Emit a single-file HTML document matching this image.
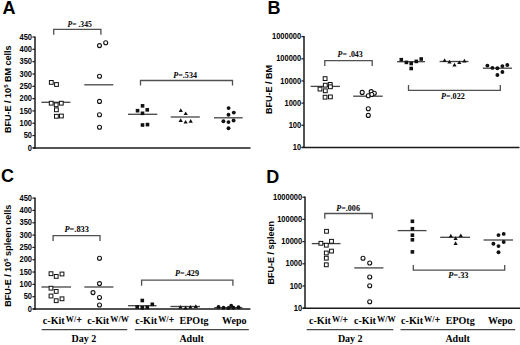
<!DOCTYPE html>
<html><head><meta charset="utf-8"><style>
html,body{margin:0;padding:0;background:#fff;}
body{width:520px;height:345px;overflow:hidden;}
svg{display:block;}
</style></head><body>
<svg width="520" height="345" viewBox="0 0 520 345">
<rect width="520" height="345" fill="#fff"/>
<line x1="41.4" y1="102.3" x2="70.4" y2="102.3" stroke="#444" stroke-width="1.3"/>
<line x1="84.3" y1="84.8" x2="113.3" y2="84.8" stroke="#444" stroke-width="1.3"/>
<line x1="128" y1="114.3" x2="157.3" y2="114.3" stroke="#444" stroke-width="1.3"/>
<line x1="170.7" y1="117.0" x2="199.8" y2="117.0" stroke="#444" stroke-width="1.3"/>
<line x1="214" y1="117.8" x2="242.7" y2="117.8" stroke="#444" stroke-width="1.3"/>
<line x1="310.6" y1="86.4" x2="340" y2="86.4" stroke="#444" stroke-width="1.3"/>
<line x1="353.2" y1="96.2" x2="382.7" y2="96.2" stroke="#444" stroke-width="1.3"/>
<line x1="397" y1="61.7" x2="425" y2="61.7" stroke="#444" stroke-width="1.3"/>
<line x1="439.6" y1="61.5" x2="468.5" y2="61.5" stroke="#444" stroke-width="1.3"/>
<line x1="482.8" y1="68.2" x2="512" y2="68.2" stroke="#444" stroke-width="1.3"/>
<line x1="41.4" y1="287" x2="71" y2="287" stroke="#444" stroke-width="1.3"/>
<line x1="84.3" y1="287" x2="113.4" y2="287" stroke="#444" stroke-width="1.3"/>
<line x1="128" y1="305.7" x2="156.5" y2="305.7" stroke="#444" stroke-width="1.3"/>
<line x1="170.4" y1="306.5" x2="200" y2="306.5" stroke="#444" stroke-width="1.3"/>
<line x1="214.2" y1="307.7" x2="242.3" y2="307.7" stroke="#444" stroke-width="1.3"/>
<line x1="311.8" y1="243.6" x2="340.5" y2="243.6" stroke="#444" stroke-width="1.3"/>
<line x1="354.3" y1="267.9" x2="383.4" y2="267.9" stroke="#444" stroke-width="1.3"/>
<line x1="397.6" y1="230.6" x2="426.5" y2="230.6" stroke="#444" stroke-width="1.3"/>
<line x1="440.2" y1="237.3" x2="470" y2="237.3" stroke="#444" stroke-width="1.3"/>
<line x1="483.6" y1="240" x2="513" y2="240" stroke="#444" stroke-width="1.3"/>
<text x="2.4" y="13.9" font-family='"Liberation Sans", sans-serif' font-size="18" font-weight="bold" text-anchor="start" >A</text>
<line x1="35.0" y1="36.42000000000001" x2="35.0" y2="148.6" stroke="#1a1a1a" stroke-width="1.5"/>
<line x1="32.8" y1="147.9" x2="250.5" y2="147.9" stroke="#1a1a1a" stroke-width="1.5"/>
<line x1="32.4" y1="147.9" x2="35.0" y2="147.9" stroke="#1a1a1a" stroke-width="1.2"/>
<text x="32.0" y="150.5" font-family='"Liberation Sans", sans-serif' font-size="8.4" font-weight="bold" text-anchor="end" textLength="4.17" lengthAdjust="spacingAndGlyphs" >0</text>
<line x1="32.4" y1="135.58" x2="35.0" y2="135.58" stroke="#1a1a1a" stroke-width="1.2"/>
<text x="32.0" y="138.18" font-family='"Liberation Sans", sans-serif' font-size="8.4" font-weight="bold" text-anchor="end" textLength="8.34" lengthAdjust="spacingAndGlyphs" >50</text>
<line x1="32.4" y1="123.26" x2="35.0" y2="123.26" stroke="#1a1a1a" stroke-width="1.2"/>
<text x="32.0" y="125.86" font-family='"Liberation Sans", sans-serif' font-size="8.4" font-weight="bold" text-anchor="end" textLength="12.51" lengthAdjust="spacingAndGlyphs" >100</text>
<line x1="32.4" y1="110.94" x2="35.0" y2="110.94" stroke="#1a1a1a" stroke-width="1.2"/>
<text x="32.0" y="113.53999999999999" font-family='"Liberation Sans", sans-serif' font-size="8.4" font-weight="bold" text-anchor="end" textLength="12.51" lengthAdjust="spacingAndGlyphs" >150</text>
<line x1="32.4" y1="98.62" x2="35.0" y2="98.62" stroke="#1a1a1a" stroke-width="1.2"/>
<text x="32.0" y="101.22" font-family='"Liberation Sans", sans-serif' font-size="8.4" font-weight="bold" text-anchor="end" textLength="12.51" lengthAdjust="spacingAndGlyphs" >200</text>
<line x1="32.4" y1="86.30000000000001" x2="35.0" y2="86.30000000000001" stroke="#1a1a1a" stroke-width="1.2"/>
<text x="32.0" y="88.9" font-family='"Liberation Sans", sans-serif' font-size="8.4" font-weight="bold" text-anchor="end" textLength="12.51" lengthAdjust="spacingAndGlyphs" >250</text>
<line x1="32.4" y1="73.98" x2="35.0" y2="73.98" stroke="#1a1a1a" stroke-width="1.2"/>
<text x="32.0" y="76.58" font-family='"Liberation Sans", sans-serif' font-size="8.4" font-weight="bold" text-anchor="end" textLength="12.51" lengthAdjust="spacingAndGlyphs" >300</text>
<line x1="32.4" y1="61.66000000000001" x2="35.0" y2="61.66000000000001" stroke="#1a1a1a" stroke-width="1.2"/>
<text x="32.0" y="64.26" font-family='"Liberation Sans", sans-serif' font-size="8.4" font-weight="bold" text-anchor="end" textLength="12.51" lengthAdjust="spacingAndGlyphs" >350</text>
<line x1="32.4" y1="49.34" x2="35.0" y2="49.34" stroke="#1a1a1a" stroke-width="1.2"/>
<text x="32.0" y="51.940000000000005" font-family='"Liberation Sans", sans-serif' font-size="8.4" font-weight="bold" text-anchor="end" textLength="12.51" lengthAdjust="spacingAndGlyphs" >400</text>
<line x1="32.4" y1="37.02000000000001" x2="35.0" y2="37.02000000000001" stroke="#1a1a1a" stroke-width="1.2"/>
<text x="32.0" y="39.62000000000001" font-family='"Liberation Sans", sans-serif' font-size="8.4" font-weight="bold" text-anchor="end" textLength="12.51" lengthAdjust="spacingAndGlyphs" >450</text>
<text transform="translate(10.6,89.2) rotate(-90)" font-family='"Liberation Sans", sans-serif' font-size="9" font-weight="bold" text-anchor="middle">BFU-E / 10<tspan font-size="6" dy="-3">5</tspan><tspan dy="3"> BM cells</tspan></text>
<rect x="49.40" y="80.50" width="3.8" height="3.8" fill="#fff" stroke="#111" stroke-width="1"/>
<rect x="54.60" y="82.60" width="3.8" height="3.8" fill="#fff" stroke="#111" stroke-width="1"/>
<rect x="49.30" y="101.30" width="3.8" height="3.8" fill="#fff" stroke="#111" stroke-width="1"/>
<rect x="54.30" y="102.90" width="3.8" height="3.8" fill="#fff" stroke="#111" stroke-width="1"/>
<rect x="59.40" y="101.30" width="3.8" height="3.8" fill="#fff" stroke="#111" stroke-width="1"/>
<rect x="54.50" y="107.90" width="3.8" height="3.8" fill="#fff" stroke="#111" stroke-width="1"/>
<rect x="54.50" y="114.40" width="3.8" height="3.8" fill="#fff" stroke="#111" stroke-width="1"/>
<rect x="59.50" y="114.10" width="3.8" height="3.8" fill="#fff" stroke="#111" stroke-width="1"/>
<circle cx="99.50" cy="45.60" r="2" fill="#fff" stroke="#111" stroke-width="1.1"/>
<circle cx="105.70" cy="42.70" r="2" fill="#fff" stroke="#111" stroke-width="1.1"/>
<circle cx="99.50" cy="76.20" r="2" fill="#fff" stroke="#111" stroke-width="1.1"/>
<circle cx="99.50" cy="101.40" r="2" fill="#fff" stroke="#111" stroke-width="1.1"/>
<circle cx="99.50" cy="114.70" r="2" fill="#fff" stroke="#111" stroke-width="1.1"/>
<circle cx="99.50" cy="127.20" r="2" fill="#fff" stroke="#111" stroke-width="1.1"/>
<rect x="140.75" y="104.05" width="3.6" height="3.6" fill="#111"/>
<rect x="135.75" y="108.90" width="3.6" height="3.6" fill="#111"/>
<rect x="145.45" y="108.05" width="3.6" height="3.6" fill="#111"/>
<rect x="140.70" y="111.50" width="3.6" height="3.6" fill="#111"/>
<rect x="140.70" y="123.20" width="3.6" height="3.6" fill="#111"/>
<rect x="145.70" y="122.80" width="3.6" height="3.6" fill="#111"/>
<path d="M180.80 108.30L182.90 112.00L178.70 112.00Z" fill="#111"/>
<path d="M185.70 111.40L187.80 115.10L183.60 115.10Z" fill="#111"/>
<path d="M180.70 118.20L182.80 121.90L178.60 121.90Z" fill="#111"/>
<path d="M185.60 119.90L187.70 123.60L183.50 123.60Z" fill="#111"/>
<path d="M190.70 119.00L192.80 122.70L188.60 122.70Z" fill="#111"/>
<circle cx="228.60" cy="108.10" r="1.95" fill="#111"/>
<circle cx="233.80" cy="112.60" r="1.95" fill="#111"/>
<circle cx="228.50" cy="114.70" r="1.95" fill="#111"/>
<circle cx="223.40" cy="121.30" r="1.95" fill="#111"/>
<circle cx="228.50" cy="122.10" r="1.95" fill="#111"/>
<circle cx="233.60" cy="120.50" r="1.95" fill="#111"/>
<circle cx="228.50" cy="128.20" r="1.95" fill="#111"/>
<path d="M53.7 34.80V29.3H100.9V34.80" fill="none" stroke="#505050" stroke-width="1.3"/>
<text x="67.5" y="26.5" font-family='"Liberation Serif", serif' font-size="7.2" font-weight="bold" textLength="24.3" lengthAdjust="spacingAndGlyphs"><tspan font-style="italic">P</tspan>= .345</text>
<path d="M140.5 85.60V80.5H232.5V85.60" fill="none" stroke="#505050" stroke-width="1.3"/>
<text x="173.3" y="77.5" font-family='"Liberation Serif", serif' font-size="7.2" font-weight="bold" textLength="23.7" lengthAdjust="spacingAndGlyphs"><tspan font-style="italic">P</tspan>=.534</text>
<text x="267.6" y="13.7" font-family='"Liberation Sans", sans-serif' font-size="18" font-weight="bold" text-anchor="start" >B</text>
<line x1="304.0" y1="36.050000000000004" x2="304.0" y2="148.1" stroke="#1a1a1a" stroke-width="1.5"/>
<line x1="301.8" y1="147.4" x2="519.5" y2="147.4" stroke="#1a1a1a" stroke-width="1.5"/>
<line x1="301.4" y1="147.4" x2="304.0" y2="147.4" stroke="#1a1a1a" stroke-width="1.2"/>
<text x="301.2" y="150.0" font-family='"Liberation Sans", sans-serif' font-size="8.4" font-weight="bold" text-anchor="end" textLength="8.34" lengthAdjust="spacingAndGlyphs" >10</text>
<line x1="301.4" y1="125.25" x2="304.0" y2="125.25" stroke="#1a1a1a" stroke-width="1.2"/>
<text x="301.2" y="127.85" font-family='"Liberation Sans", sans-serif' font-size="8.4" font-weight="bold" text-anchor="end" textLength="12.51" lengthAdjust="spacingAndGlyphs" >100</text>
<line x1="301.4" y1="103.10000000000001" x2="304.0" y2="103.10000000000001" stroke="#1a1a1a" stroke-width="1.2"/>
<text x="301.2" y="105.7" font-family='"Liberation Sans", sans-serif' font-size="8.4" font-weight="bold" text-anchor="end" textLength="16.68" lengthAdjust="spacingAndGlyphs" >1000</text>
<line x1="301.4" y1="80.95000000000002" x2="304.0" y2="80.95000000000002" stroke="#1a1a1a" stroke-width="1.2"/>
<text x="301.2" y="83.55000000000001" font-family='"Liberation Sans", sans-serif' font-size="8.4" font-weight="bold" text-anchor="end" textLength="20.85" lengthAdjust="spacingAndGlyphs" >10000</text>
<line x1="301.4" y1="58.80000000000001" x2="304.0" y2="58.80000000000001" stroke="#1a1a1a" stroke-width="1.2"/>
<text x="301.2" y="61.40000000000001" font-family='"Liberation Sans", sans-serif' font-size="8.4" font-weight="bold" text-anchor="end" textLength="25.02" lengthAdjust="spacingAndGlyphs" >100000</text>
<line x1="301.4" y1="36.650000000000006" x2="304.0" y2="36.650000000000006" stroke="#1a1a1a" stroke-width="1.2"/>
<text x="301.2" y="39.25000000000001" font-family='"Liberation Sans", sans-serif' font-size="8.4" font-weight="bold" text-anchor="end" textLength="29.19" lengthAdjust="spacingAndGlyphs" >1000000</text>
<text transform="translate(272.4,89.5) rotate(-90)" font-family='"Liberation Sans", sans-serif' font-size="9" font-weight="bold" text-anchor="middle">BFU-E / BM</text>
<rect x="323.20" y="76.70" width="3.8" height="3.8" fill="#fff" stroke="#111" stroke-width="1"/>
<rect x="323.40" y="83.30" width="3.8" height="3.8" fill="#fff" stroke="#111" stroke-width="1"/>
<rect x="328.30" y="82.50" width="3.8" height="3.8" fill="#fff" stroke="#111" stroke-width="1"/>
<rect x="328.50" y="84.90" width="3.8" height="3.8" fill="#fff" stroke="#111" stroke-width="1"/>
<rect x="318.10" y="87.20" width="3.8" height="3.8" fill="#fff" stroke="#111" stroke-width="1"/>
<rect x="323.40" y="88.90" width="3.8" height="3.8" fill="#fff" stroke="#111" stroke-width="1"/>
<rect x="323.20" y="95.30" width="3.8" height="3.8" fill="#fff" stroke="#111" stroke-width="1"/>
<rect x="328.50" y="95.00" width="3.8" height="3.8" fill="#fff" stroke="#111" stroke-width="1"/>
<circle cx="362.20" cy="92.40" r="2" fill="#fff" stroke="#111" stroke-width="1.1"/>
<circle cx="371.20" cy="91.60" r="2" fill="#fff" stroke="#111" stroke-width="1.1"/>
<circle cx="374.30" cy="93.30" r="2" fill="#fff" stroke="#111" stroke-width="1.1"/>
<circle cx="368.30" cy="95.70" r="2" fill="#fff" stroke="#111" stroke-width="1.1"/>
<circle cx="371.80" cy="94.50" r="2" fill="#fff" stroke="#111" stroke-width="1.1"/>
<circle cx="368.30" cy="108.80" r="2" fill="#fff" stroke="#111" stroke-width="1.1"/>
<circle cx="368.30" cy="115.40" r="2" fill="#fff" stroke="#111" stroke-width="1.1"/>
<rect x="399.50" y="57.90" width="3.6" height="3.6" fill="#111"/>
<rect x="404.60" y="60.60" width="3.6" height="3.6" fill="#111"/>
<rect x="409.40" y="61.70" width="3.6" height="3.6" fill="#111"/>
<rect x="414.50" y="59.60" width="3.6" height="3.6" fill="#111"/>
<rect x="419.40" y="57.20" width="3.6" height="3.6" fill="#111"/>
<rect x="409.40" y="66.70" width="3.6" height="3.6" fill="#111"/>
<path d="M444.60 58.20L446.70 61.90L442.50 61.90Z" fill="#111"/>
<path d="M449.50 59.70L451.60 63.40L447.40 63.40Z" fill="#111"/>
<path d="M454.50 62.80L456.60 66.50L452.40 66.50Z" fill="#111"/>
<path d="M459.30 60.40L461.40 64.10L457.20 64.10Z" fill="#111"/>
<path d="M464.40 58.70L466.50 62.40L462.30 62.40Z" fill="#111"/>
<circle cx="487.40" cy="65.60" r="1.95" fill="#111"/>
<circle cx="492.40" cy="67.90" r="1.95" fill="#111"/>
<circle cx="497.40" cy="68.20" r="1.95" fill="#111"/>
<circle cx="502.40" cy="66.10" r="1.95" fill="#111"/>
<circle cx="507.30" cy="65.00" r="1.95" fill="#111"/>
<circle cx="502.40" cy="72.00" r="1.95" fill="#111"/>
<circle cx="497.40" cy="75.00" r="1.95" fill="#111"/>
<path d="M324.8 65.90V60.6H372.2V65.90" fill="none" stroke="#505050" stroke-width="1.3"/>
<text x="337.6" y="56.8" font-family='"Liberation Serif", serif' font-size="7.2" font-weight="bold" textLength="25.2" lengthAdjust="spacingAndGlyphs"><tspan font-style="italic">P</tspan>= .043</text>
<path d="M408.5 85.10V90.3H500.3V85.10" fill="none" stroke="#505050" stroke-width="1.3"/>
<text x="441" y="98.6" font-family='"Liberation Serif", serif' font-size="7.2" font-weight="bold" textLength="23.8" lengthAdjust="spacingAndGlyphs"><tspan font-style="italic">P</tspan>=.022</text>
<text x="1.0" y="181.5" font-family='"Liberation Sans", sans-serif' font-size="18" font-weight="bold" text-anchor="start" >C</text>
<line x1="35.0" y1="197.52" x2="35.0" y2="309.7" stroke="#1a1a1a" stroke-width="1.5"/>
<line x1="32.8" y1="309.0" x2="250.4" y2="309.0" stroke="#1a1a1a" stroke-width="1.5"/>
<line x1="32.4" y1="309.0" x2="35.0" y2="309.0" stroke="#1a1a1a" stroke-width="1.2"/>
<text x="32.0" y="311.6" font-family='"Liberation Sans", sans-serif' font-size="8.4" font-weight="bold" text-anchor="end" textLength="4.17" lengthAdjust="spacingAndGlyphs" >0</text>
<line x1="32.4" y1="296.68" x2="35.0" y2="296.68" stroke="#1a1a1a" stroke-width="1.2"/>
<text x="32.0" y="299.28000000000003" font-family='"Liberation Sans", sans-serif' font-size="8.4" font-weight="bold" text-anchor="end" textLength="8.34" lengthAdjust="spacingAndGlyphs" >50</text>
<line x1="32.4" y1="284.36" x2="35.0" y2="284.36" stroke="#1a1a1a" stroke-width="1.2"/>
<text x="32.0" y="286.96000000000004" font-family='"Liberation Sans", sans-serif' font-size="8.4" font-weight="bold" text-anchor="end" textLength="12.51" lengthAdjust="spacingAndGlyphs" >100</text>
<line x1="32.4" y1="272.04" x2="35.0" y2="272.04" stroke="#1a1a1a" stroke-width="1.2"/>
<text x="32.0" y="274.64000000000004" font-family='"Liberation Sans", sans-serif' font-size="8.4" font-weight="bold" text-anchor="end" textLength="12.51" lengthAdjust="spacingAndGlyphs" >150</text>
<line x1="32.4" y1="259.72" x2="35.0" y2="259.72" stroke="#1a1a1a" stroke-width="1.2"/>
<text x="32.0" y="262.32000000000005" font-family='"Liberation Sans", sans-serif' font-size="8.4" font-weight="bold" text-anchor="end" textLength="12.51" lengthAdjust="spacingAndGlyphs" >200</text>
<line x1="32.4" y1="247.4" x2="35.0" y2="247.4" stroke="#1a1a1a" stroke-width="1.2"/>
<text x="32.0" y="250.0" font-family='"Liberation Sans", sans-serif' font-size="8.4" font-weight="bold" text-anchor="end" textLength="12.51" lengthAdjust="spacingAndGlyphs" >250</text>
<line x1="32.4" y1="235.07999999999998" x2="35.0" y2="235.07999999999998" stroke="#1a1a1a" stroke-width="1.2"/>
<text x="32.0" y="237.67999999999998" font-family='"Liberation Sans", sans-serif' font-size="8.4" font-weight="bold" text-anchor="end" textLength="12.51" lengthAdjust="spacingAndGlyphs" >300</text>
<line x1="32.4" y1="222.76" x2="35.0" y2="222.76" stroke="#1a1a1a" stroke-width="1.2"/>
<text x="32.0" y="225.35999999999999" font-family='"Liberation Sans", sans-serif' font-size="8.4" font-weight="bold" text-anchor="end" textLength="12.51" lengthAdjust="spacingAndGlyphs" >350</text>
<line x1="32.4" y1="210.44" x2="35.0" y2="210.44" stroke="#1a1a1a" stroke-width="1.2"/>
<text x="32.0" y="213.04" font-family='"Liberation Sans", sans-serif' font-size="8.4" font-weight="bold" text-anchor="end" textLength="12.51" lengthAdjust="spacingAndGlyphs" >400</text>
<line x1="32.4" y1="198.12" x2="35.0" y2="198.12" stroke="#1a1a1a" stroke-width="1.2"/>
<text x="32.0" y="200.72" font-family='"Liberation Sans", sans-serif' font-size="8.4" font-weight="bold" text-anchor="end" textLength="12.51" lengthAdjust="spacingAndGlyphs" >450</text>
<text transform="translate(10.6,255.8) rotate(-90)" font-family='"Liberation Sans", sans-serif' font-size="9" font-weight="bold" text-anchor="middle">BFU-E / 10<tspan font-size="6" dy="-3">5</tspan><tspan dy="3"> spleen cells</tspan></text>
<rect x="49.10" y="271.80" width="3.8" height="3.8" fill="#fff" stroke="#111" stroke-width="1"/>
<rect x="54.30" y="274.50" width="3.8" height="3.8" fill="#fff" stroke="#111" stroke-width="1"/>
<rect x="60.10" y="272.10" width="3.8" height="3.8" fill="#fff" stroke="#111" stroke-width="1"/>
<rect x="49.10" y="286.30" width="3.8" height="3.8" fill="#fff" stroke="#111" stroke-width="1"/>
<rect x="54.30" y="289.50" width="3.8" height="3.8" fill="#fff" stroke="#111" stroke-width="1"/>
<rect x="49.10" y="294.10" width="3.8" height="3.8" fill="#fff" stroke="#111" stroke-width="1"/>
<rect x="54.30" y="298.80" width="3.8" height="3.8" fill="#fff" stroke="#111" stroke-width="1"/>
<rect x="60.10" y="296.90" width="3.8" height="3.8" fill="#fff" stroke="#111" stroke-width="1"/>
<circle cx="99.50" cy="258.20" r="2" fill="#fff" stroke="#111" stroke-width="1.1"/>
<circle cx="99.50" cy="283.60" r="2" fill="#fff" stroke="#111" stroke-width="1.1"/>
<circle cx="93.00" cy="292.60" r="2" fill="#fff" stroke="#111" stroke-width="1.1"/>
<circle cx="99.50" cy="297.50" r="2" fill="#fff" stroke="#111" stroke-width="1.1"/>
<circle cx="99.50" cy="305.00" r="2" fill="#fff" stroke="#111" stroke-width="1.1"/>
<rect x="140.50" y="298.70" width="3.6" height="3.6" fill="#111"/>
<rect x="150.50" y="302.50" width="3.6" height="3.6" fill="#111"/>
<rect x="135.40" y="305.20" width="3.6" height="3.6" fill="#111"/>
<rect x="140.50" y="306.00" width="3.6" height="3.6" fill="#111"/>
<rect x="145.50" y="305.60" width="3.6" height="3.6" fill="#111"/>
<path d="M180.40 304.90L182.50 308.60L178.30 308.60Z" fill="#111"/>
<path d="M185.60 305.70L187.70 309.40L183.50 309.40Z" fill="#111"/>
<path d="M190.40 304.90L192.50 308.60L188.30 308.60Z" fill="#111"/>
<path d="M195.80 304.20L197.90 307.90L193.70 307.90Z" fill="#111"/>
<circle cx="218.50" cy="306.90" r="1.95" fill="#111"/>
<circle cx="223.50" cy="307.70" r="1.95" fill="#111"/>
<circle cx="228.50" cy="308.00" r="1.95" fill="#111"/>
<circle cx="231.20" cy="305.80" r="1.95" fill="#111"/>
<circle cx="233.50" cy="307.70" r="1.95" fill="#111"/>
<circle cx="238.50" cy="307.30" r="1.95" fill="#111"/>
<path d="M53.1 240.90V235.6H100V240.90" fill="none" stroke="#505050" stroke-width="1.3"/>
<text x="64.4" y="231.6" font-family='"Liberation Serif", serif' font-size="7.2" font-weight="bold" textLength="24.6" lengthAdjust="spacingAndGlyphs"><tspan font-style="italic">P</tspan>=.833</text>
<path d="M141.6 285.80V280.2H232.9V285.80" fill="none" stroke="#505050" stroke-width="1.3"/>
<text x="175.1" y="276" font-family='"Liberation Serif", serif' font-size="7.2" font-weight="bold" textLength="23.9" lengthAdjust="spacingAndGlyphs"><tspan font-style="italic">P</tspan>=.429</text>
<text x="266.3" y="182.8" font-family='"Liberation Sans", sans-serif' font-size="18" font-weight="bold" text-anchor="start" >D</text>
<line x1="305.0" y1="196.6" x2="305.0" y2="308.9" stroke="#1a1a1a" stroke-width="1.5"/>
<line x1="302.8" y1="308.2" x2="520" y2="308.2" stroke="#1a1a1a" stroke-width="1.5"/>
<line x1="302.4" y1="308.2" x2="305.0" y2="308.2" stroke="#1a1a1a" stroke-width="1.2"/>
<text x="302.2" y="310.8" font-family='"Liberation Sans", sans-serif' font-size="8.4" font-weight="bold" text-anchor="end" textLength="8.34" lengthAdjust="spacingAndGlyphs" >10</text>
<line x1="302.4" y1="286.0" x2="305.0" y2="286.0" stroke="#1a1a1a" stroke-width="1.2"/>
<text x="302.2" y="288.6" font-family='"Liberation Sans", sans-serif' font-size="8.4" font-weight="bold" text-anchor="end" textLength="12.51" lengthAdjust="spacingAndGlyphs" >100</text>
<line x1="302.4" y1="263.8" x2="305.0" y2="263.8" stroke="#1a1a1a" stroke-width="1.2"/>
<text x="302.2" y="266.40000000000003" font-family='"Liberation Sans", sans-serif' font-size="8.4" font-weight="bold" text-anchor="end" textLength="16.68" lengthAdjust="spacingAndGlyphs" >1000</text>
<line x1="302.4" y1="241.6" x2="305.0" y2="241.6" stroke="#1a1a1a" stroke-width="1.2"/>
<text x="302.2" y="244.2" font-family='"Liberation Sans", sans-serif' font-size="8.4" font-weight="bold" text-anchor="end" textLength="20.85" lengthAdjust="spacingAndGlyphs" >10000</text>
<line x1="302.4" y1="219.39999999999998" x2="305.0" y2="219.39999999999998" stroke="#1a1a1a" stroke-width="1.2"/>
<text x="302.2" y="221.99999999999997" font-family='"Liberation Sans", sans-serif' font-size="8.4" font-weight="bold" text-anchor="end" textLength="25.02" lengthAdjust="spacingAndGlyphs" >100000</text>
<line x1="302.4" y1="197.2" x2="305.0" y2="197.2" stroke="#1a1a1a" stroke-width="1.2"/>
<text x="302.2" y="199.79999999999998" font-family='"Liberation Sans", sans-serif' font-size="8.4" font-weight="bold" text-anchor="end" textLength="29.19" lengthAdjust="spacingAndGlyphs" >1000000</text>
<text transform="translate(274.3,252.8) rotate(-90)" font-family='"Liberation Sans", sans-serif' font-size="9" font-weight="bold" text-anchor="middle">BFU-E / spleen</text>
<rect x="324.60" y="229.40" width="3.8" height="3.8" fill="#fff" stroke="#111" stroke-width="1"/>
<rect x="319.00" y="241.40" width="3.8" height="3.8" fill="#fff" stroke="#111" stroke-width="1"/>
<rect x="324.40" y="243.30" width="3.8" height="3.8" fill="#fff" stroke="#111" stroke-width="1"/>
<rect x="329.60" y="239.40" width="3.8" height="3.8" fill="#fff" stroke="#111" stroke-width="1"/>
<rect x="324.40" y="251.10" width="3.8" height="3.8" fill="#fff" stroke="#111" stroke-width="1"/>
<rect x="329.60" y="249.20" width="3.8" height="3.8" fill="#fff" stroke="#111" stroke-width="1"/>
<rect x="324.40" y="256.30" width="3.8" height="3.8" fill="#fff" stroke="#111" stroke-width="1"/>
<rect x="324.40" y="262.90" width="3.8" height="3.8" fill="#fff" stroke="#111" stroke-width="1"/>
<circle cx="363.00" cy="258.30" r="2" fill="#fff" stroke="#111" stroke-width="1.1"/>
<circle cx="369.70" cy="263.00" r="2" fill="#fff" stroke="#111" stroke-width="1.1"/>
<circle cx="369.70" cy="277.00" r="2" fill="#fff" stroke="#111" stroke-width="1.1"/>
<circle cx="369.70" cy="285.70" r="2" fill="#fff" stroke="#111" stroke-width="1.1"/>
<circle cx="369.70" cy="301.80" r="2" fill="#fff" stroke="#111" stroke-width="1.1"/>
<rect x="410.60" y="219.50" width="3.6" height="3.6" fill="#111"/>
<rect x="410.60" y="226.90" width="3.6" height="3.6" fill="#111"/>
<rect x="410.60" y="233.40" width="3.6" height="3.6" fill="#111"/>
<rect x="410.60" y="238.00" width="3.6" height="3.6" fill="#111"/>
<rect x="410.60" y="250.10" width="3.6" height="3.6" fill="#111"/>
<path d="M450.80 233.80L452.90 237.50L448.70 237.50Z" fill="#111"/>
<path d="M455.60 236.20L457.70 239.90L453.50 239.90Z" fill="#111"/>
<path d="M460.80 233.40L462.90 237.10L458.70 237.10Z" fill="#111"/>
<path d="M455.60 241.20L457.70 244.90L453.50 244.90Z" fill="#111"/>
<circle cx="498.50" cy="235.10" r="1.95" fill="#111"/>
<circle cx="503.70" cy="233.90" r="1.95" fill="#111"/>
<circle cx="503.70" cy="242.00" r="1.95" fill="#111"/>
<circle cx="493.40" cy="243.70" r="1.95" fill="#111"/>
<circle cx="498.50" cy="246.10" r="1.95" fill="#111"/>
<circle cx="498.50" cy="252.20" r="1.95" fill="#111"/>
<path d="M324.8 218.80V213.5H372.2V218.80" fill="none" stroke="#505050" stroke-width="1.3"/>
<text x="336.2" y="210.7" font-family='"Liberation Serif", serif' font-size="7.2" font-weight="bold" textLength="23.8" lengthAdjust="spacingAndGlyphs"><tspan font-style="italic">P</tspan>=.006</text>
<path d="M413.3 264.90V270.1H504.7V264.90" fill="none" stroke="#505050" stroke-width="1.3"/>
<text x="448.2" y="278" font-family='"Liberation Serif", serif' font-size="7.2" font-weight="bold" textLength="20.3" lengthAdjust="spacingAndGlyphs"><tspan font-style="italic">P</tspan>=.33</text>
<text x="42.8" y="324.4" font-family='"Liberation Serif", serif' font-size="10" font-weight="bold" textLength="21.9" lengthAdjust="spacingAndGlyphs">c-Kit</text>
<text x="65.80" y="321.8" font-family='"Liberation Serif", serif' font-size="8.2" font-weight="bold" textLength="10.4" lengthAdjust="spacingAndGlyphs">W/</text>
<text x="76.40" y="322.5" font-family='"Liberation Serif", serif' font-size="9.4" font-weight="bold" stroke="#000" stroke-width="0.25">+</text>
<text x="87.3" y="324.4" font-family='"Liberation Serif", serif' font-size="10" font-weight="bold" textLength="21.9" lengthAdjust="spacingAndGlyphs">c-Kit</text>
<text x="110.30" y="321.8" font-family='"Liberation Serif", serif' font-size="8.2" font-weight="bold" textLength="18.6" lengthAdjust="spacingAndGlyphs">W/W</text>
<text x="135.2" y="324.4" font-family='"Liberation Serif", serif' font-size="10" font-weight="bold" textLength="21.9" lengthAdjust="spacingAndGlyphs">c-Kit</text>
<text x="158.20" y="321.8" font-family='"Liberation Serif", serif' font-size="8.2" font-weight="bold" textLength="10.4" lengthAdjust="spacingAndGlyphs">W/</text>
<text x="168.80" y="322.5" font-family='"Liberation Serif", serif' font-size="9.4" font-weight="bold" stroke="#000" stroke-width="0.25">+</text>
<text x="179.6" y="324.4" font-family='"Liberation Serif", serif' font-size="10" font-weight="bold">EPOtg</text>
<text x="222.0" y="324.4" font-family='"Liberation Serif", serif' font-size="10" font-weight="bold">Wepo</text>
<line x1="41.7" y1="329.6" x2="127.3" y2="329.6" stroke="#444" stroke-width="1.2"/>
<line x1="134.8" y1="329.6" x2="248.8" y2="329.6" stroke="#444" stroke-width="1.2"/>
<text x="71.5" y="341.7" font-family='"Liberation Serif", serif' font-size="10" font-weight="bold">Day 2</text>
<text x="179.4" y="341.7" font-family='"Liberation Serif", serif' font-size="10" font-weight="bold">Adult</text>
<text x="309.0" y="324.4" font-family='"Liberation Serif", serif' font-size="10" font-weight="bold" textLength="21.9" lengthAdjust="spacingAndGlyphs">c-Kit</text>
<text x="332.00" y="321.8" font-family='"Liberation Serif", serif' font-size="8.2" font-weight="bold" textLength="10.4" lengthAdjust="spacingAndGlyphs">W/</text>
<text x="342.60" y="322.5" font-family='"Liberation Serif", serif' font-size="9.4" font-weight="bold" stroke="#000" stroke-width="0.25">+</text>
<text x="354.0" y="324.4" font-family='"Liberation Serif", serif' font-size="10" font-weight="bold" textLength="21.9" lengthAdjust="spacingAndGlyphs">c-Kit</text>
<text x="377.00" y="321.8" font-family='"Liberation Serif", serif' font-size="8.2" font-weight="bold" textLength="18.6" lengthAdjust="spacingAndGlyphs">W/W</text>
<text x="401.1" y="324.4" font-family='"Liberation Serif", serif' font-size="10" font-weight="bold" textLength="21.9" lengthAdjust="spacingAndGlyphs">c-Kit</text>
<text x="424.10" y="321.8" font-family='"Liberation Serif", serif' font-size="8.2" font-weight="bold" textLength="10.4" lengthAdjust="spacingAndGlyphs">W/</text>
<text x="434.70" y="322.5" font-family='"Liberation Serif", serif' font-size="9.4" font-weight="bold" stroke="#000" stroke-width="0.25">+</text>
<text x="445.8" y="324.4" font-family='"Liberation Serif", serif' font-size="10" font-weight="bold">EPOtg</text>
<text x="488.0" y="324.4" font-family='"Liberation Serif", serif' font-size="10" font-weight="bold">Wepo</text>
<line x1="306.7" y1="329.6" x2="393.3" y2="329.6" stroke="#444" stroke-width="1.2"/>
<line x1="400.5" y1="329.6" x2="515.2" y2="329.6" stroke="#444" stroke-width="1.2"/>
<text x="337.9" y="341.7" font-family='"Liberation Serif", serif' font-size="10" font-weight="bold">Day 2</text>
<text x="445.4" y="341.7" font-family='"Liberation Serif", serif' font-size="10" font-weight="bold">Adult</text>
</svg>
</body></html>
